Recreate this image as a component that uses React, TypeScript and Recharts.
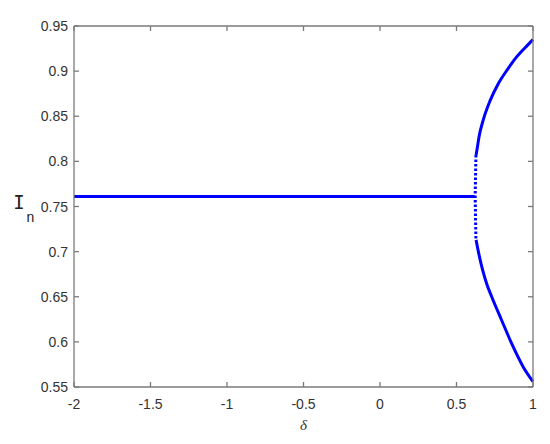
import React from "react";
import { ComposedChart, Line, XAxis, YAxis } from "recharts";

// fixed point branch (delta < bifurcation)
const flatBranch = [
  { d: -2, v: 0.761 },
  { d: 0.618, v: 0.761 },
];

// period-2 branches after bifurcation
const upperBranch = [
  { d: 0.628, v: 0.807 },
  { d: 0.636, v: 0.815 },
  { d: 0.647, v: 0.827 },
  { d: 0.675, v: 0.846 },
  { d: 0.719, v: 0.867 },
  { d: 0.773, v: 0.886 },
  { d: 0.838, v: 0.903 },
  { d: 0.88, v: 0.913 },
  { d: 0.926, v: 0.922 },
  { d: 0.96, v: 0.928 },
  { d: 1.0, v: 0.935 },
];

const lowerBranch = [
  { d: 0.628, v: 0.713 },
  { d: 0.643, v: 0.7 },
  { d: 0.66, v: 0.687 },
  { d: 0.675, v: 0.677 },
  { d: 0.7, v: 0.663 },
  { d: 0.73, v: 0.65 },
  { d: 0.795, v: 0.624 },
  { d: 0.861, v: 0.598 },
  { d: 0.937, v: 0.572 },
  { d: 1.0, v: 0.556 },
];

// sparse dots where the branches are nearly vertical
const dottedPart = [
  { d: 0.627, v: 0.807 },
  { d: 0.622, v: 0.761 },
  { d: 0.627, v: 0.713 },
];

const xTicks = [-2, -1.5, -1, -0.5, 0, 0.5, 1];
const yTicks = [0.55, 0.6, 0.65, 0.7, 0.75, 0.8, 0.85, 0.9, 0.95];

const W = 550;
const H = 444;
const M = { top: 26, right: 17, bottom: 0, left: 0 };
const Y_AXIS_W = 74;
const X_AXIS_H = 57;
const PLOT_W = W - M.left - M.right - Y_AXIS_W;
const PLOT_H = H - M.top - M.bottom - X_AXIS_H;

const AXIS = "#7a7a7a";
const TXT = "#333333";
const FONT = "'Liberation Sans', Arial, sans-serif";
const BLUE = "#0000ff";
const TICK = 5;
const LW = 1.3;

// MATLAB-style: ticks point inward, mirrored on the top edge (box on)
const BottomTick = (props: any) => {
  const { x, y, payload } = props;
  const top = y - PLOT_H;
  const first = payload.value === xTicks[0];
  return (
    <g>
      {first && <line x1={x} y1={top} x2={x + PLOT_W} y2={top} stroke={AXIS} strokeWidth={LW} />}
      <line x1={x} y1={y} x2={x} y2={y - TICK} stroke={AXIS} strokeWidth={LW} />
      <line x1={x} y1={top} x2={x} y2={top + TICK} stroke={AXIS} strokeWidth={LW} />
      <text x={x} y={y + 22} textAnchor="middle" fill={TXT} fontSize={14} fontFamily={FONT}>
        {payload.value}
      </text>
    </g>
  );
};

// inward ticks, mirrored on the right edge
const LeftTick = (props: any) => {
  const { x, y, payload } = props;
  const right = x + PLOT_W;
  const first = payload.value === yTicks[0];
  return (
    <g>
      {first && <line x1={right} y1={y} x2={right} y2={y - PLOT_H} stroke={AXIS} strokeWidth={LW} />}
      <line x1={x} y1={y} x2={x + TICK} y2={y} stroke={AXIS} strokeWidth={LW} />
      <line x1={right} y1={y} x2={right - TICK} y2={y} stroke={AXIS} strokeWidth={LW} />
      <text x={x - 6} y={y + 5} textAnchor="end" fill={TXT} fontSize={14} fontFamily={FONT}>
        {payload.value}
      </text>
    </g>
  );
};

const XLabel = (props: any) => {
  const { viewBox } = props;
  return (
    <text
      x={viewBox.x + viewBox.width / 2}
      y={viewBox.y + 43}
      textAnchor="middle"
      fill={TXT}
      fontSize={15}
      fontStyle="italic"
      fontFamily="'Liberation Serif', 'Times New Roman', serif"
    >
      δ
    </text>
  );
};

const YLabel = (props: any) => {
  const { viewBox } = props;
  return (
    <g>
      <text x={19} y={viewBox.y + 183} textAnchor="middle" fill="#222" fontSize={19} fontFamily="'DejaVu Sans Mono', monospace">
        I
      </text>
      <text x={30.5} y={viewBox.y + 195.5} textAnchor="middle" fill="#222" fontSize={14} fontFamily={FONT}>
        n
      </text>
    </g>
  );
};

export default function App() {
  return (
    <div style={{ position: "absolute", left: 0, top: 0, background: "#fff" }}>
      <ComposedChart width={W} height={H} margin={M}>
        <XAxis
          dataKey="d"
          type="number"
          domain={[-2, 1]}
          ticks={xTicks}
          height={X_AXIS_H}
          tickSize={0}
          tickMargin={0}
          tickLine={false}
          axisLine={{ stroke: AXIS, strokeWidth: LW }}
          tick={BottomTick}
          interval={0}
          label={{ content: XLabel }}
        />
        <YAxis
          type="number"
          domain={[0.55, 0.95]}
          ticks={yTicks}
          width={Y_AXIS_W}
          tickSize={0}
          tickMargin={0}
          tickLine={false}
          axisLine={{ stroke: AXIS, strokeWidth: LW }}
          tick={LeftTick}
          interval={0}
          label={{ content: YLabel }}
        />
        <Line data={flatBranch} dataKey="v" stroke={BLUE} strokeWidth={3} dot={false} isAnimationActive={false} />
        <Line type="monotone" data={upperBranch} dataKey="v" stroke={BLUE} strokeWidth={3} dot={false} isAnimationActive={false} />
        <Line type="monotone" data={lowerBranch} dataKey="v" stroke={BLUE} strokeWidth={3} dot={false} isAnimationActive={false} />
        <Line data={dottedPart} dataKey="v" stroke={BLUE} strokeWidth={3} strokeDasharray="2.5 2" dot={false} isAnimationActive={false} />
      </ComposedChart>
    </div>
  );
}
